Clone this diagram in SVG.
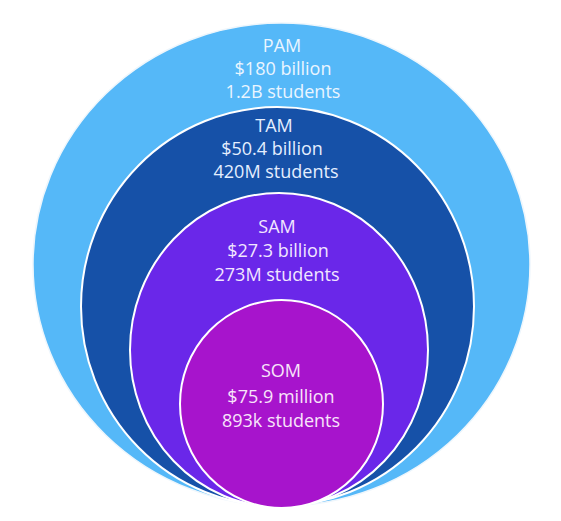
<svg xmlns="http://www.w3.org/2000/svg" width="561" height="521" viewBox="0 0 561 521">
<style>
.t{font-family:"Open Sans","Liberation Sans",sans-serif;font-size:18px;text-anchor:middle}
.ring{stroke:#ffffff;stroke-width:2}
</style>
<rect width="561" height="521" fill="#ffffff"/>
<g id="pam">
<ellipse cx="281.5" cy="264.5" rx="248.5" ry="241.5" fill="#55B8F8" stroke="#eef6fc" stroke-width="1.5"/>
<text class="t" x="282" y="52" fill="#EAF5FF">PAM</text>
<text class="t" x="283" y="75" fill="#EAF5FF">$180 billion</text>
<text class="t" x="283" y="98" fill="#EAF5FF">1.2B students</text>
</g>
<g id="tam">
<ellipse class="ring" cx="277.5" cy="306.5" rx="196.5" ry="199.5" fill="#1651A8"/>
<text class="t" x="274" y="132" fill="#E4EEFF">TAM</text>
<text class="t" x="272" y="155" fill="#E4EEFF">$50.4 billion</text>
<text class="t" x="276" y="178" fill="#E4EEFF">420M students</text>
</g>
<g id="sam">
<ellipse class="ring" cx="279" cy="350" rx="149" ry="157" fill="#6A27E9"/>
<text class="t" x="277" y="233" fill="#F1E6FF">SAM</text>
<text class="t" x="278" y="257" fill="#F1E6FF">$27.3 billion</text>
<text class="t" x="277" y="281" fill="#F1E6FF">273M students</text>
</g>
<g id="som">
<ellipse class="ring" cx="281.5" cy="404" rx="101.5" ry="104" fill="#A714CC"/>
<text class="t" x="281" y="377" fill="#F8E4FA">SOM</text>
<text class="t" x="281" y="403" fill="#F8E4FA">$75.9 million</text>
<text class="t" x="281" y="427" fill="#F8E4FA">893k students</text>
</g>
<g id="connectors"></g>
</svg>
